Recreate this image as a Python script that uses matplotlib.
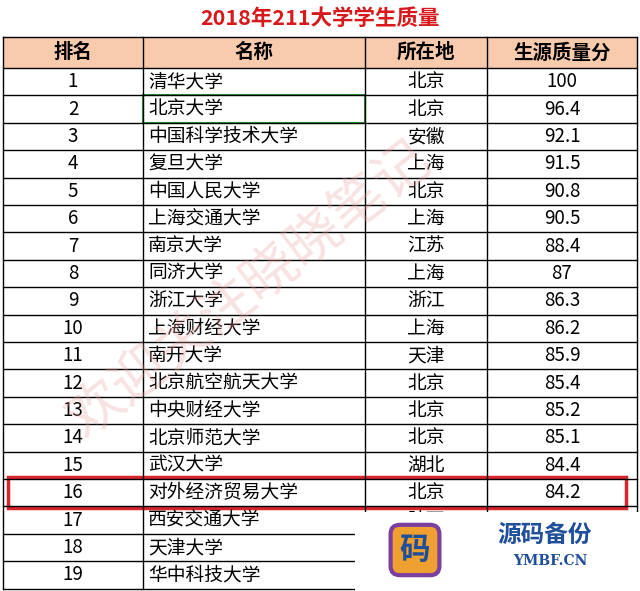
import matplotlib.pyplot as plt
from matplotlib.patches import Rectangle

plt.rcParams['font.family'] = ['Noto Sans CJK SC']

title = '2018年211大学学生质量'
headers = ['排名', '名称', '所在地', '生源质量分']
ranks = list(range(1, 20))
names = ['清华大学', '北京大学', '中国科学技术大学', '复旦大学', '中国人民大学', '上海交通大学',
         '南京大学', '同济大学', '浙江大学', '上海财经大学', '南开大学', '北京航空航天大学',
         '中央财经大学', '北京师范大学', '武汉大学', '对外经济贸易大学', '西安交通大学',
         '天津大学', '华中科技大学']
places = ['北京', '北京', '安徽', '上海', '北京', '上海', '江苏', '上海', '浙江', '上海',
          '天津', '北京', '北京', '北京', '湖北', '北京', '陕西', '天津', '湖北']
scores = ['100', '96.4', '92.1', '91.5', '90.8', '90.5', '88.4', '87', '86.3', '86.2',
          '85.9', '85.4', '85.2', '85.1', '84.4', '84.2', '83.5', '83.1', '82.4']

fig = plt.figure(figsize=(6.4, 5.91), dpi=100)
ax = fig.add_axes([0, 0, 1, 1])
ax.set_xlim(0, 640)
ax.set_ylim(591, 0)
ax.axis('off')

cols = [3, 143, 365, 487, 637]
head_top, head_bot = 37, 68
rh = 27.4

ax.text(320, 18, title, ha='center', va='center', fontsize=15.5, fontweight='bold', color='#d7191c')
ax.add_patch(Rectangle((cols[0], head_top), cols[-1] - cols[0], head_bot - head_top,
                       facecolor='#f8cbad', edgecolor='none'))
for i, h in enumerate(headers):
    ax.text((cols[i] + cols[i + 1]) / 2, (head_top + head_bot) / 2, h, ha='center', va='center',
            fontsize=14, fontweight='bold')

n = len(ranks)
bottom = head_bot + rh * n
for x in cols:
    ax.plot([x, x], [head_top, bottom], color='black', lw=1)
ax.plot([cols[0], cols[-1]], [head_top, head_top], color='black', lw=1)
for r in range(n + 1):
    y = head_bot + rh * r
    ax.plot([cols[0], cols[-1]], [y, y], color='black', lw=1)

for r in range(n):
    yc = head_bot + rh * (r + 0.5)
    ax.text((cols[0] + cols[1]) / 2, yc, str(ranks[r]), ha='center', va='center', fontsize=13.5)
    ax.text(cols[1] + 5, yc, names[r], ha='left', va='center', fontsize=13.5)
    ax.text((cols[2] + cols[3]) / 2, yc, places[r], ha='center', va='center', fontsize=13.5)
    ax.text((cols[3] + cols[4]) / 2, yc, scores[r], ha='center', va='center', fontsize=13.5)

# selection box on 北京大学 and highlight on row 16
ax.add_patch(Rectangle((cols[1], head_bot + rh), cols[2] - cols[1], rh,
                       fill=False, edgecolor='#2e9e3e', lw=1.5))
ax.add_patch(Rectangle((8, head_bot + rh * 15 - 2), 618, rh + 4,
                       fill=False, edgecolor='#d9262e', lw=2.5))

# watermark
ax.text(250, 290, '欢迎关注晓晓笔记', rotation=38, fontsize=40, color='#e8a0a0',
        alpha=0.3, ha='center', va='center')
ax.add_patch(Rectangle((355, 512), 285, 79, facecolor='white', edgecolor='none', zorder=5))
ax.text(415, 550, '码', fontsize=22, fontweight='bold', color='#1f4e9a', ha='center',
        va='center', zorder=6, bbox=dict(boxstyle='round', fc='#f0a030', ec='#7b3fa0', lw=3))
ax.text(545, 535, '源码备份', fontsize=17, fontweight='bold', color='#1f4e9a', ha='center',
        va='center', zorder=6)
ax.text(550, 561, 'YMBF.CN', fontsize=10, fontweight='bold', color='#1f4e9a', ha='center',
        va='center', zorder=6, family='DejaVu Serif')

fig.savefig('out.png', dpi=100)
